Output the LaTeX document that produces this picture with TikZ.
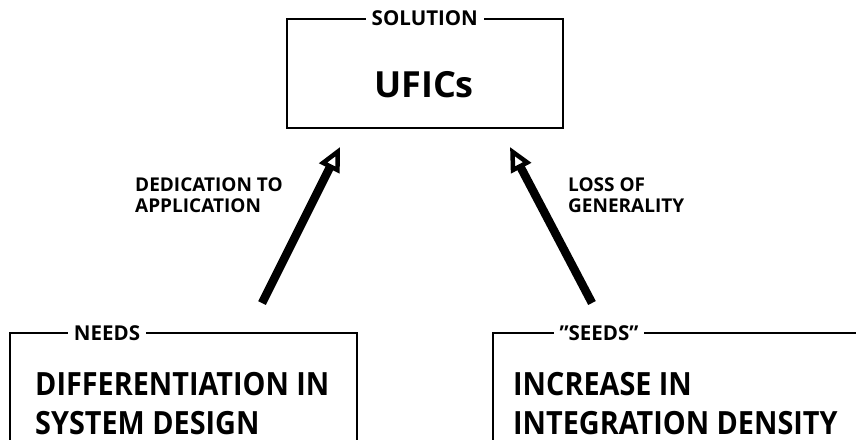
\documentclass[tikz,border=0pt]{standalone}
\usepackage{fontspec}
\usepackage{graphicx}
\setmainfont{Open Sans}
\usetikzlibrary{arrows.meta}
\newcommand{\narrowtxt}[1]{\scalebox{0.9}[1]{#1}}
\newcommand{\nodepth}[1]{\raisebox{0pt}[\height][0pt]{#1}}
\begin{document}
\begin{tikzpicture}[x=1pt,y=-1pt,
  frame/.style={line width=1.6pt},
  boxtitle/.style={fill=white, inner xsep=6pt, inner ysep=2pt, font=\bfseries\fontsize{20.5}{20.5}\selectfont},
  bodytext/.style={anchor=base west, inner sep=0pt, font=\bfseries\fontsize{32}{32}\selectfont},
  bigtext/.style={anchor=base, inner sep=0pt, font=\bfseries\fontsize{36}{36}\selectfont},
  labeltext/.style={anchor=base west, inner sep=0pt, align=left, font=\bfseries\fontsize{19}{21}\selectfont},
  bigarrow/.style={line width=8.5pt, -{Triangle[open, length=24pt, width=22pt, line width=4.5pt 0]}}
]
\useasboundingbox (0,0) rectangle (856,439);
\clip (0,0) rectangle (856,439);
\fill[white] (0,0) rectangle (856,439);

% solution box
\node[draw, frame, minimum width=276pt, minimum height=109pt, anchor=north west, inner sep=0pt] (sol) at (286,18) {};
\node[boxtitle] (solt) at (sol.north) {SOLUTION};
\node[bigtext] (ufics) at (424,97) {UFICs};

% needs box
\coordinate (nbl) at (10,460);
\coordinate (ntl) at (10,333);
\coordinate (ntr) at (357,333);
\coordinate (nbr) at (357,460);
\draw[frame] (nbl) -- (ntl) -- (ntr) -- (nbr);
\node[boxtitle] (needs) at (107,333) {NEEDS};
\node[bodytext] (n1) at (35,395) {\narrowtxt{DIFFERENTIATION IN}};
\node[bodytext] (n2) at (35,434) {\nodepth{\narrowtxt{SYSTEM DESIGN}}};

% seeds box
\coordinate (sbl) at (493,460);
\coordinate (stl) at (493,333);
\coordinate (str) at (880,333);
\draw[frame] (sbl) -- (stl) -- (str);
\node[boxtitle] (seeds) at (599,333) {"SEEDS"};
\node[bodytext] (s1) at (513,395) {\narrowtxt{INCREASE IN}};
\node[bodytext] (s2) at (513,434) {\nodepth{\narrowtxt{INTEGRATION DENSITY}}};

% arrows
\coordinate (ltail) at (262,303);
\coordinate (ltip) at (340,147);
\coordinate (rtail) at (592,303);
\coordinate (rtip) at (510,147);
\draw[bigarrow] (ltail) -- (ltip);
\draw[bigarrow] (rtail) -- (rtip);

% labels
\node[labeltext] (lab1) at (135,212) {DEDICATION TO\\APPLICATION};
\node[labeltext] (lab2) at (568,212) {LOSS OF\\GENERALITY};
\end{tikzpicture}
\end{document}
